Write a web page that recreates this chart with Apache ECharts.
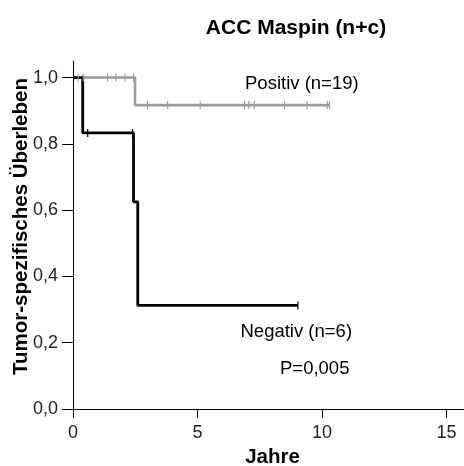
<!DOCTYPE html>
<html>
<head>
<meta charset="utf-8">
<script src="https://cdn.jsdelivr.net/npm/echarts@6/dist/echarts.min.js"></script>
<style>
  html, body { margin: 0; padding: 0; background: #fff; }
  #chart { width: 464px; height: 466px; }
</style>
</head>
<body>
<div id="chart"></div>
<script>
// Kaplan-Meier curves: tumour-specific survival by Maspin status
const positivSteps = [[0, 1], [2.49, 0.917], [10.30, 0.917]];
const positivCensored = [0.21, 0.41, 1.39, 1.72, 2.09, 2.43, 2.99, 3.80, 5.11, 6.89, 7.06, 7.28, 8.49, 9.40, 10.21, 10.30];
const negativSteps = [[0, 1], [0.39, 0.833], [2.43, 0.625], [2.60, 0.3125], [9.03, 0.3125]];
const negativCensored = [0.59, 2.39, 9.03];
const xTicks = [0, 5, 10, 15];
const yTicks = [0, 0.2, 0.4, 0.6, 0.8, 1.0];

const FONT = '"Liberation Sans", Arial, sans-serif';
const GRAY = '#9c9c9c';
const BLACK = '#000000';

// survival value of a step curve at time t (step changes at listed times)
function survivalAt(steps, t) {
  let s = steps[0][1];
  for (const [x, y] of steps) {
    if (x <= t) s = y; else break;
  }
  return s;
}

// small vertical tick for each censored observation
function censorSeries(times, steps, color) {
  return {
    type: 'custom',
    data: times.map(t => [t, survivalAt(steps, t)]),
    z: 5,
    renderItem: function (params, api) {
      const p = api.coord([api.value(0), api.value(1)]);
      return {
        type: 'line',
        shape: { x1: p[0], y1: p[1] - 4, x2: p[0], y2: p[1] + 4 },
        style: { stroke: color, lineWidth: 1.2 }
      };
    }
  };
}

const chart = echarts.init(document.getElementById('chart'), null, { renderer: 'canvas' });
chart.setOption({
  animation: false,
  backgroundColor: '#ffffff',
  grid: { left: 73, right: 0, top: 61, bottom: 57, containLabel: false, outerBoundsMode: 'none' },
  xAxis: {
    type: 'value', min: 0, max: 15.7,
    axisLine: { onZero: false, lineStyle: { color: '#000', width: 1 } },
    axisTick: { show: true, length: 9, customValues: xTicks, lineStyle: { color: '#000' } },
    axisLabel: { customValues: xTicks, fontFamily: FONT, fontSize: 18, color: '#222', margin: 15 },
    splitLine: { show: false }
  },
  yAxis: {
    type: 'value', min: 0, max: 1.05,
    axisLine: { show: true, onZero: false, lineStyle: { color: '#000', width: 1 } },
    axisTick: { show: true, length: 11, customValues: yTicks, lineStyle: { color: '#000' } },
    axisLabel: {
      customValues: yTicks, fontFamily: FONT, fontSize: 18, color: '#222', margin: 15,
      padding: [5, 0, 0, 0],
      formatter: v => v.toFixed(1).replace('.', ',')
    },
    splitLine: { show: false }
  },
  series: [
    {
      type: 'line', step: 'end', data: positivSteps, symbol: 'none', z: 3,
      lineStyle: { color: GRAY, width: 2.6 }
    },
    {
      type: 'line', step: 'end', data: negativSteps, symbol: 'none', z: 4,
      lineStyle: { color: BLACK, width: 2.8 }
    },
    censorSeries(positivCensored, positivSteps, GRAY),
    censorSeries(negativCensored, negativSteps, BLACK)
  ],
  graphic: [
    { type: 'text', x: 296, y: 28,
      style: { text: 'ACC Maspin (n+c)', font: 'bold 21px ' + FONT, fill: '#000', align: 'center', verticalAlign: 'middle' } },
    { type: 'text', x: 272.5, y: 457,
      style: { text: 'Jahre', font: 'bold 20.5px ' + FONT, fill: '#000', align: 'center', verticalAlign: 'middle' } },
    { type: 'text', x: 21, y: 226.5, rotation: Math.PI / 2,
      style: { text: 'Tumor-spezifisches Überleben', font: 'bold 20.5px ' + FONT, fill: '#000', align: 'center', verticalAlign: 'middle' } },
    { type: 'text', x: 245, y: 83.5,
      style: { text: 'Positiv (n=19)', font: '18.5px ' + FONT, fill: '#000', verticalAlign: 'middle' } },
    { type: 'text', x: 240.5, y: 331.5,
      style: { text: 'Negativ (n=6)', font: '18.5px ' + FONT, fill: '#000', verticalAlign: 'middle' } },
    { type: 'text', x: 280, y: 368.5,
      style: { text: 'P=0,005', font: '18.5px ' + FONT, fill: '#000', verticalAlign: 'middle' } }
  ]
});
</script>
</body>
</html>
